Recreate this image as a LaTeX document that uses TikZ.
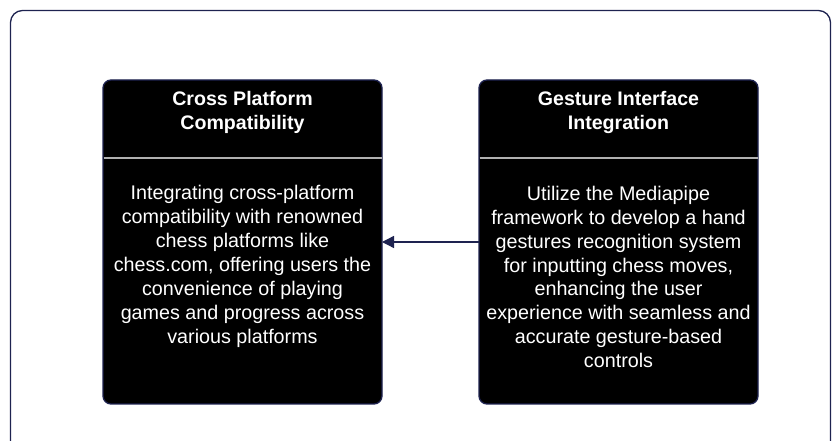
\documentclass[tikz,border=0pt]{standalone}
\usepackage{fontspec}
\setmainfont{Liberation Sans}
\usetikzlibrary{arrows.meta}
\definecolor{navy}{HTML}{1E2350}
\definecolor{divider}{HTML}{B0B0B0}
\tikzset{
  card/.style={draw=navy, line width=1pt, fill=black, rounded corners=6pt},
  titletext/.style={text=white, font=\fontsize{14.7}{18.6}\selectfont\bfseries, align=center},
  bodytext/.style={text=white, font=\fontsize{14.8}{17.9}\selectfont, align=center},
  conn/.style={draw=navy, line width=1pt, -{Triangle[length=9pt,width=9pt]}}
}
\begin{document}
\begin{tikzpicture}[x=0.75pt,y=-0.75pt]
\useasboundingbox (0,0) rectangle (833,441);
\draw[navy, line width=1pt, rounded corners=9pt] (10.5,460) -- (10.5,10.5) -- (830.5,10.5) -- (830.5,460);
% left card
\path[card] (103,80) rectangle (382,404);
\coordinate (Lw) at (382,242);
\draw[divider, line width=1pt] (103.5,158) -- (381.5,158);
\node[titletext] (lt) at (242.5,112.5) {Cross Platform\\Compatibility};
\node[bodytext] (lb) at (242.5,266.5) {Integrating cross-platform\\compatibility with renowned\\chess platforms like\\chess.com, offering users the\\convenience of playing\\games and progress across\\various platforms};
% right card
\path[card] (479,80) rectangle (758,404);
\coordinate (Re) at (479,242);
\draw[divider, line width=1pt] (479.5,158) -- (757.5,158);
\node[titletext] (rt) at (618.5,112.5) {Gesture Interface\\Integration};
\node[bodytext] (rb) at (618.5,277) {Utilize the Mediapipe\\framework to develop a hand\\gestures recognition system\\for inputting chess moves,\\enhancing the user\\experience with seamless and\\accurate gesture-based\\controls};
\draw[conn] (Re) -- (Lw);
\end{tikzpicture}
\end{document}
